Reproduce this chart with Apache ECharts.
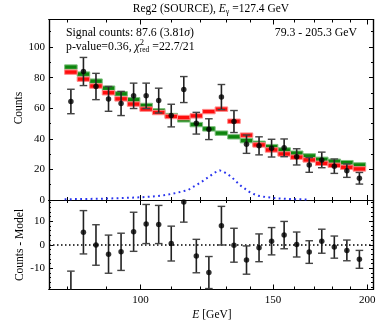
<!DOCTYPE html>
<html lang="en">
<head>
<meta charset="UTF-8">
<title>Reg2 (SOURCE)</title>
<script src="https://cdn.jsdelivr.net/npm/echarts@6/dist/echarts.min.js"></script>
<style>
    body { margin: 0; background: #fff; }
    #main { width: 382px; height: 334px; }
</style>
</head>
<body>
<div id="main"></div>
<script>
// energy bin edges (GeV), log spaced
var binEdges = [79.30, 82.40, 85.62, 88.97, 92.45, 96.06, 99.82, 103.72, 107.78, 111.99, 116.37, 120.92,
    125.65, 130.56, 135.67, 140.97, 146.48, 152.21, 158.16, 164.35, 170.77, 177.45, 184.39, 191.60, 199.09];
var counts = [64.4, 84.0, 74.2, 66.1, 63.1, 68.1, 68.1, 65.0, 55.2, 72.2, 50.2, 46.3,
    67.3, 51.3, 36.5, 35.4, 33.9, 34.1, 28.2, 22.9, 26.2, 22.1, 19.2, 14.2];
var errors = [8.0, 9.2, 8.6, 8.1, 7.9, 8.3, 8.3, 8.1, 7.4, 8.5, 7.1, 6.8,
    8.2, 7.2, 6.0, 5.9, 5.8, 5.8, 5.3, 4.8, 5.1, 4.7, 4.4, 3.8];
// green: background only, red: background + signal
var bkgModel = [86.9, 82.3, 77.7, 73.1, 69.4, 65.5, 61.8, 58.3, 55.2, 52.4, 49.3, 46.5,
    43.7, 41.3, 38.8, 37.1, 34.9, 32.7, 30.6, 28.8, 26.6, 25.3, 24.4, 22.9];
var sigModel = [83.6, 79.0, 74.5, 70.1, 66.1, 62.7, 59.4, 57.2, 54.6, 53.9, 55.0, 57.8,
    59.4, 51.5, 42.4, 36.0, 32.7, 30.1, 28.0, 26.2, 24.0, 22.7, 21.4, 20.3];
var residuals = [-19.2, 5.3, -0.1, -4.0, -3.0, 5.5, 8.8, 8.6, 0.5, 18.1, -4.8, -11.8,
    8.1, -0.2, -6.5, -1.3, 1.5, 4.1, 0.1, -3.1, 1.5, -1.0, -2.4, -6.2];
// signal line shape
var sigCurveE = [79.3, 88.3, 93.9, 100.3, 103.4, 106.6, 108.5, 110.3, 112.0, 113.7, 115.7, 117.2, 118.9,
    120.5, 122.1, 123.9, 125.5, 127.4, 129.1, 130.8, 132.5, 134.2, 135.8, 137.6, 139.4, 141.4, 143.3,
    145.5, 147.7, 152.2, 157.9, 167.8];
var sigCurveY = [0.5, 0.8, 1.2, 1.8, 2.2, 2.8, 3.5, 4.1, 4.8, 5.7, 6.5, 8.3, 10.0,
    11.8, 13.8, 15.9, 17.9, 19.4, 18.3, 16.6, 14.4, 11.8, 9.4, 7.4, 5.4, 3.9, 2.8,
    2.2, 1.8, 1.0, 0.6, 0.3];

var xMajor = [100, 150, 200];
var xMinor = [80, 90, 110, 120, 130, 140, 160, 170, 180, 190];
var yTopMajor = [0, 20, 40, 60, 80, 100];
var yTopMinor = [10, 30, 50, 70, 90, 110];
var yBotMajor = [-10, 0, 10];
var yBotMinor = [-18, -16, -14, -12, -8, -6, -4, -2, 2, 4, 6, 8, 12, 14, 16, 18];

var FONT = 'Liberation Serif';
var X_MIN = 75.6, X_MAX = 203.6;

var centers = [];
for (var i = 0; i < binEdges.length - 1; i++) {
    centers.push(Math.sqrt(binEdges[i] * binEdges[i + 1]));
}

var xAxes = [], yAxes = [];
function addX(grid, pos, ticks, len, labels) {
    xAxes.push({
        type: 'log', gridIndex: grid, position: pos, min: X_MIN, max: X_MAX,
        axisLine: {show: true, onZero: false, lineStyle: {color: '#000', width: 1.2}},
        axisTick: {show: true, inside: true, length: len, customValues: ticks, lineStyle: {color: '#000', width: 1}},
        axisLabel: labels ? {show: true, customValues: ticks, fontFamily: FONT, fontSize: 11, color: '#000', margin: 5}
            : {show: false},
        splitLine: {show: false}
    });
}
function addY(grid, pos, min, max, ticks, len, labels) {
    yAxes.push({
        type: 'value', gridIndex: grid, position: pos, min: min, max: max,
        axisLine: {show: true, onZero: false, lineStyle: {color: '#000', width: 1.2}},
        axisTick: {show: true, inside: true, length: len, customValues: ticks, lineStyle: {color: '#000', width: 1}},
        axisLabel: labels ? {show: true, customValues: ticks, fontFamily: FONT, fontSize: 11, color: '#000', margin: 4}
            : {show: false},
        splitLine: {show: false}
    });
}
// top panel: axes 0..3, bottom panel: axes 4..7
addX(0, 'bottom', xMajor, 5, false);
addX(0, 'bottom', xMinor, 3, false);
addX(0, 'top', xMajor, 5, false);
addX(0, 'top', xMinor, 3, false);
addX(1, 'bottom', xMajor, 5, true);
addX(1, 'bottom', xMinor, 3, false);
addX(1, 'top', xMajor, 5, false);
addX(1, 'top', xMinor, 3, false);
addY(0, 'left', 0, 118, yTopMajor, 4, true);
addY(0, 'left', 0, 118, yTopMinor, 2, false);
addY(0, 'right', 0, 118, yTopMajor, 4, false);
addY(0, 'right', 0, 118, yTopMinor, 2, false);
addY(1, 'left', -19, 19, yBotMajor, 4, true);
addY(1, 'left', -19, 19, yBotMinor, 2, false);
addY(1, 'right', -19, 19, yBotMajor, 4, false);
addY(1, 'right', -19, 19, yBotMinor, 2, false);

function stepItem(fill, edge) {
    return function (params, api) {
        var a = api.coord([api.value(0), api.value(2)]);
        var b = api.coord([api.value(1), api.value(2)]);
        return {
            type: 'rect',
            shape: {x: a[0], y: a[1] - 2.2, width: b[0] - a[0], height: 4.4},
            style: {fill: fill, stroke: edge, lineWidth: 1}
        };
    };
}

function errorItem(params, api) {
    var cs = params.coordSys;
    var x = api.value(0), y = api.value(1), e = api.value(2);
    var top = api.coord([x, y + e]), bot = api.coord([x, y - e]);
    var yMin = cs.y, yMax = cs.y + cs.height;
    var children = [];
    var t = Math.max(top[1], yMin), b = Math.min(bot[1], yMax);
    if (b > t) {
        children.push({type: 'line', shape: {x1: top[0], y1: t, x2: top[0], y2: b},
            style: {stroke: '#222', lineWidth: 1.6}});
    }
    [top[1], bot[1]].forEach(function (cy) {
        if (cy >= yMin && cy <= yMax) {
            children.push({type: 'line', shape: {x1: top[0] - 3.8, y1: cy, x2: top[0] + 3.8, y2: cy},
                style: {stroke: '#444', lineWidth: 1.4}});
        }
    });
    return {type: 'group', children: children};
}

var stepData = function (vals) {
    return vals.map(function (v, i) { return [binEdges[i], binEdges[i + 1], v]; });
};

// text with sub/superscripts laid out from measured widths
var measureCtx = document.createElement('canvas').getContext('2d');
function fontStr(p) { return (p.italic ? 'italic ' : '') + p.size + 'px "' + FONT + '"'; }
function mathText(pieces, x, y, align) {
    var xs = [], cur = 0, start = 0;
    pieces.forEach(function (p) {
        measureCtx.font = fontStr(p);
        var w = measureCtx.measureText(p.t).width;
        if (p.stack) {
            xs.push(start);
            cur = Math.max(cur, start + w);
        } else {
            start = cur;
            xs.push(cur);
            cur += w;
        }
    });
    var off = align === 'center' ? -cur / 2 : (align === 'right' ? -cur : 0);
    return pieces.map(function (p, i) {
        return {
            type: 'text', x: x + off + xs[i], y: y + (p.dy || 0), silent: true,
            style: {text: p.t, font: fontStr(p), fill: '#000', align: 'left', verticalAlign: 'middle'}
        };
    });
}

var graphics = [].concat(
    mathText([{t: 'Reg2 (SOURCE), ', size: 11.5}, {t: 'E', size: 11.5, italic: true},
        {t: 'γ', size: 8, dy: 3}, {t: ' =127.4 GeV', size: 11.5}], 211, 9, 'center'),
    mathText([{t: 'Signal counts: 87.6 (3.81', size: 11.8}, {t: 'σ', size: 11.8, italic: true},
        {t: ')', size: 11.8}], 66, 32.5, 'left'),
    mathText([{t: 'p-value=0.36, ', size: 11.8}, {t: 'χ', size: 11.8, italic: true},
        {t: '2', size: 8.5, dy: -4}, {t: 'red', size: 7.5, dy: 3.5, stack: true},
        {t: ' =22.7/21', size: 11.8}], 66, 46.5, 'left'),
    mathText([{t: '79.3 - 205.3 GeV', size: 11.8}], 357, 32.5, 'right'),
    mathText([{t: 'E', size: 11.5, italic: true}, {t: ' [GeV]', size: 11.5}], 212, 314.5, 'center'),
    [
        {type: 'text', x: 19, y: 108, rotation: Math.PI / 2, silent: true,
            style: {text: 'Counts', font: '11.5px "' + FONT + '"', fill: '#000', align: 'center', verticalAlign: 'middle'}},
        {type: 'text', x: 20, y: 245, rotation: Math.PI / 2, silent: true,
            style: {text: 'Counts - Model', font: '11.5px "' + FONT + '"', fill: '#000', align: 'center', verticalAlign: 'middle'}}
    ]
);

var chart = echarts.init(document.getElementById('main'));
chart.setOption({
    animation: false,
    backgroundColor: '#fff',
    grid: [
        {left: 49, right: 9, top: 19.5, height: 180.5},
        {left: 49, right: 9, top: 200, height: 89.5}
    ],
    xAxis: xAxes,
    yAxis: yAxes,
    graphic: graphics,
    series: [
        {
            type: 'custom', name: 'background', xAxisIndex: 0, yAxisIndex: 0,
            renderItem: stepItem('#0e850e', '#7cbf7c'), encode: {x: [0, 1], y: 2},
            data: stepData(bkgModel), z: 2
        },
        {
            type: 'custom', name: 'model', xAxisIndex: 0, yAxisIndex: 0,
            renderItem: stepItem('#ff0d0d', '#ff8a8a'), encode: {x: [0, 1], y: 2},
            data: stepData(sigModel), z: 3
        },
        {
            type: 'line', name: 'signal', xAxisIndex: 0, yAxisIndex: 0,
            data: sigCurveE.map(function (e, i) { return [e, sigCurveY[i]]; }),
            showSymbol: false, symbol: 'none', z: 4,
            lineStyle: {color: '#2a35ee', width: 2, type: [1.8, 3.4]}
        },
        {
            type: 'custom', name: 'errors', xAxisIndex: 0, yAxisIndex: 0,
            renderItem: errorItem, encode: {x: 0, y: 1},
            data: centers.map(function (c, i) { return [c, counts[i], errors[i]]; }), z: 5
        },
        {
            type: 'scatter', name: 'counts', xAxisIndex: 0, yAxisIndex: 0,
            data: centers.map(function (c, i) { return [c, counts[i]]; }),
            symbolSize: 5.5, itemStyle: {color: '#000'}, z: 6
        },
        {
            type: 'custom', name: 'resErrors', xAxisIndex: 4, yAxisIndex: 4,
            renderItem: errorItem, encode: {x: 0, y: 1},
            data: centers.map(function (c, i) { return [c, residuals[i], errors[i]]; }), z: 5
        },
        {
            type: 'scatter', name: 'residuals', xAxisIndex: 4, yAxisIndex: 4, clip: true,
            data: centers.map(function (c, i) { return [c, residuals[i]]; }),
            symbolSize: 5.5, itemStyle: {color: '#000'}, z: 6,
            markLine: {
                silent: true, symbol: 'none', label: {show: false},
                lineStyle: {color: '#000', type: [1.5, 2.5], width: 1.5},
                data: [{yAxis: 0}]
            }
        }
    ]
});
</script>
</body>
</html>
